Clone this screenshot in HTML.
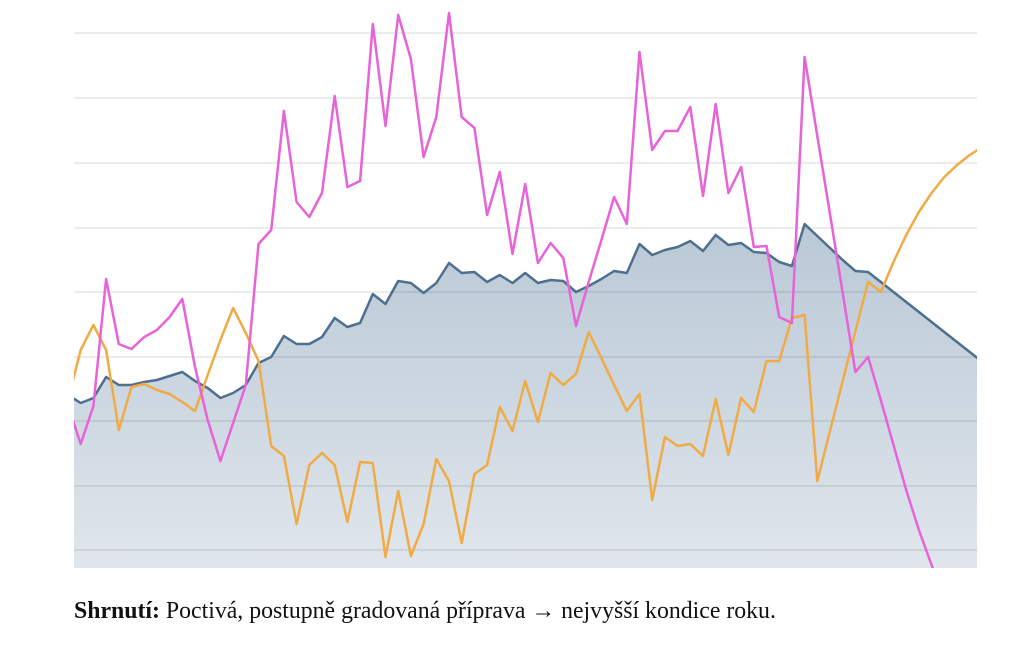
<!DOCTYPE html>
<html><head><meta charset="utf-8"><style>
html,body{margin:0;padding:0;background:#fff;width:1024px;height:667px;overflow:hidden}
#cap{position:absolute;left:74px;top:598px;font-family:"Liberation Serif",serif;font-size:23.8px;line-height:26px;color:#111;white-space:nowrap}
</style></head><body>
<svg id="chart" width="1024" height="580" style="position:absolute;left:0;top:0">
<defs>
<linearGradient id="fillg" gradientUnits="userSpaceOnUse" x1="0" y1="220" x2="0" y2="568">
<stop offset="0" stop-color="#b9c8d6"/><stop offset="1" stop-color="#e0e6ec"/></linearGradient>
<clipPath id="plotclip"><rect x="74" y="0" width="903" height="568"/></clipPath>
</defs>
<g id="plot" clip-path="url(#plotclip)"></g>
</svg>
<div id="cap"><b>Shrnutí:</b> Poctivá, postupně gradovaná příprava → nejvyšší kondice roku.</div>
<script>
const blueValues=[173,165,170,191,183,183,186,188,192,196,187,180,170,175,183,205,211,232,224,224,231,250,241,245,274,264,287,285,275,285,305,295,296,286,293,285,295,285,288,287,276,282,289,297,295,324,313,318,321,327,317,333,323,325,316,315,306,302,344,332,320,308,297,296,286,276,266,256,246,236,226,216,206];
const orangeValues=[168,218,243,218,138,181,184,178,174,166,157,193,228,260,235,207,122,112,44,103,115,103,46,106,105,11,77,12,44,109,87,25,94,103,161,137,187,146,195,183,194,236,210,183,157,174,68,131,122,124,112,169,113,170,156,207,207,250,253,87,137,187,237,286,276,306,333,356,375,391,403,413,421];
const pinkValues=[163,124,162,289,224,219,231,238,251,269,201,148,107,145,183,324,338,457,366,351,375,472,381,387,544,442,553,509,411,451,555,451,440,353,396,314,384,305,325,310,242,286,328,371,344,516,418,437,437,461,372,464,375,401,321,322,251,245,511,432,354,275,196,211,168,123,78,38,3,-32,-72,-112,-152];
const gridValues=[18,82,147,211,276,340,405,470,535];
const xScale=i=>68+12.7*i;
const yScale=v=>568-v;
const NS="http://www.w3.org/2000/svg";
const plot=document.getElementById('plot');
function pts(arr){return arr.map((v,i)=>xScale(i).toFixed(1)+','+yScale(v).toFixed(1)).join(' ');}
const area=document.createElementNS(NS,'polygon');


area.setAttribute('points',xScale(0)+','+yScale(0)+' '+pts(blueValues)+' '+xScale(blueValues.length-1)+','+yScale(0));
area.setAttribute('fill','url(#fillg)');
plot.appendChild(area);
gridValues.forEach(g=>{
 const l=document.createElementNS(NS,'line');
 
 
 l.setAttribute('x1',74);l.setAttribute('x2',977);
 l.setAttribute('y1',yScale(g));l.setAttribute('y2',yScale(g));
 l.setAttribute('stroke','rgba(0,0,0,0.12)');l.setAttribute('stroke-width','1.2');
 plot.appendChild(l);
});
function line(arr,color,name,w){
 const p=document.createElementNS(NS,'polyline');
 
 
 p.setAttribute('points',pts(arr));
 p.setAttribute('fill','none');p.setAttribute('stroke',color);
 p.setAttribute('stroke-width',w);p.setAttribute('stroke-linejoin','round');
 plot.appendChild(p);
}
line(blueValues,'#4f6f8f','blue-series-line',2.5);
line(orangeValues,'#f0ab45','orange-series-line',2.5);
line(pinkValues,'#e763d8','pink-series-line',2.5);
</script>
</body></html>
